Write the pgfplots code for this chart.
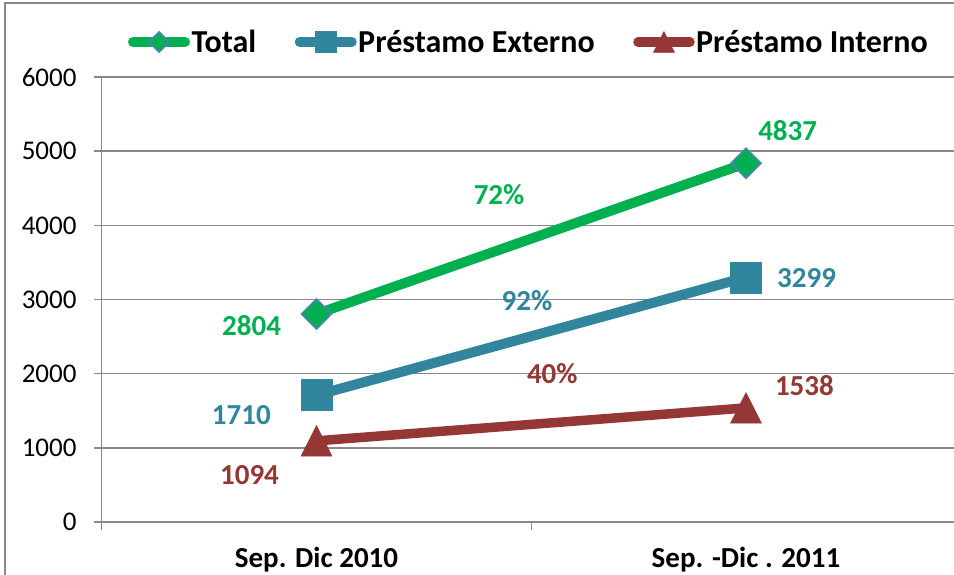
\documentclass[border=0pt]{standalone}
\usepackage{fontspec}
\setmainfont{Carlito}
\usepackage{pgfplots}
\pgfplotsset{compat=1.18}
\definecolor{cgreen}{HTML}{00B050}
\definecolor{cblue}{HTML}{31859C}
\definecolor{cred}{HTML}{953735}
\definecolor{cgrid}{HTML}{898989}
\definecolor{cedge}{HTML}{4F81BD}
\begin{document}
\begin{tikzpicture}
\useasboundingbox (0pt,0pt) rectangle (954pt,575pt);
\clip (0pt,0pt) rectangle (954pt,575pt);
\fill[white] (0pt,0pt) rectangle (954pt,575pt);
\draw[cgrid, line width=2pt] (5pt,-5pt) -- (5pt,572pt) -- (960pt,572pt);
\begin{axis}[
  at={(101.75pt,53pt)}, anchor=south west, scale only axis,
  width=859pt, height=445pt,
  xmin=-0.5, xmax=1.5, ymin=0, ymax=6000,
  axis lines=left, axis line style={cgrid, line width=1.5pt, -},
  ytick={0,1000,2000,3000,4000,5000,6000},
  ymajorgrids, grid style={cgrid, line width=1.5pt},
  tick align=outside, major tick length=8pt,
  tick style={cgrid, line width=1.5pt},
  xtick={-0.5,0.5,1.5},
  x tick label as interval,
  xticklabels={Sep. Dic 2010, Sep. -Dic . 2011},
  xticklabel style={font=\fontsize{29}{32}\selectfont\bfseries, anchor=north, inner sep=0pt, yshift=-17pt},
  yticklabel style={font=\fontsize{27}{30}\selectfont, anchor=east, inner sep=0pt, xshift=-17pt},
  /pgf/number format/assume math mode=true,
  /pgf/number format/1000 sep={},
  scaled y ticks=false,
  legend columns=3,
  legend style={draw=none, fill=none, at={(0.497,1.0787)}, anchor=center,
    font=\fontsize{32}{36}\selectfont\bfseries, inner sep=0pt,
    /tikz/every even column/.append style={column sep=37pt},
    nodes={inner sep=1.5pt}},
  legend image code/.code={\draw[mark repeat=2, mark phase=2, #1, line cap=round, every mark/.prefix style={scale=0.68}] plot coordinates {(0pt,0pt) (26pt,0pt) (52pt,0pt)};},
]
\addplot[cgreen, line width=10pt, mark=square*, mark size=10.6pt,
  mark options={rotate=45, fill=cgreen, draw=cedge, line width=1.5pt}]
  coordinates {(0,2804) (1,4837)};
\addlegendentry{Total}
\addplot[cblue, line width=10pt, mark=square*, mark size=15.5pt,
  mark options={fill=cblue, draw=cblue, line width=0.5pt}]
  coordinates {(0,1710) (1,3299)};
\addlegendentry{Préstamo Externo}
\addplot[cred, line width=9.5pt, mark=triangle*, mark size=17.9pt,
  mark options={yshift=-5.1pt, yscale=1.14, fill=cred, draw=cred, line width=0.5pt}]
  coordinates {(0,1094) (1,1538)};
\addlegendentry{Préstamo Interno}
\begin{scope}[every node/.style={font=\fontsize{29}{32}\selectfont\bfseries, inner sep=0pt}]
\node[text=cgreen] at (axis cs:-0.151,2643) {2804};
\node[text=cgreen] at (axis cs:1.097,5279) {4837};
\node[text=cgreen] at (axis cs:0.425,4409) {72\%};
\node[text=cblue] at (axis cs:-0.175,1443) {1710};
\node[text=cblue] at (axis cs:1.141,3283) {3299};
\node[text=cblue] at (axis cs:0.490,2980) {92\%};
\node[text=cred] at (axis cs:-0.156,634) {1094};
\node[text=cred] at (axis cs:1.136,1834) {1538};
\node[text=cred] at (axis cs:0.549,2002) {40\%};
\end{scope}
\end{axis}
\end{tikzpicture}
\end{document}
